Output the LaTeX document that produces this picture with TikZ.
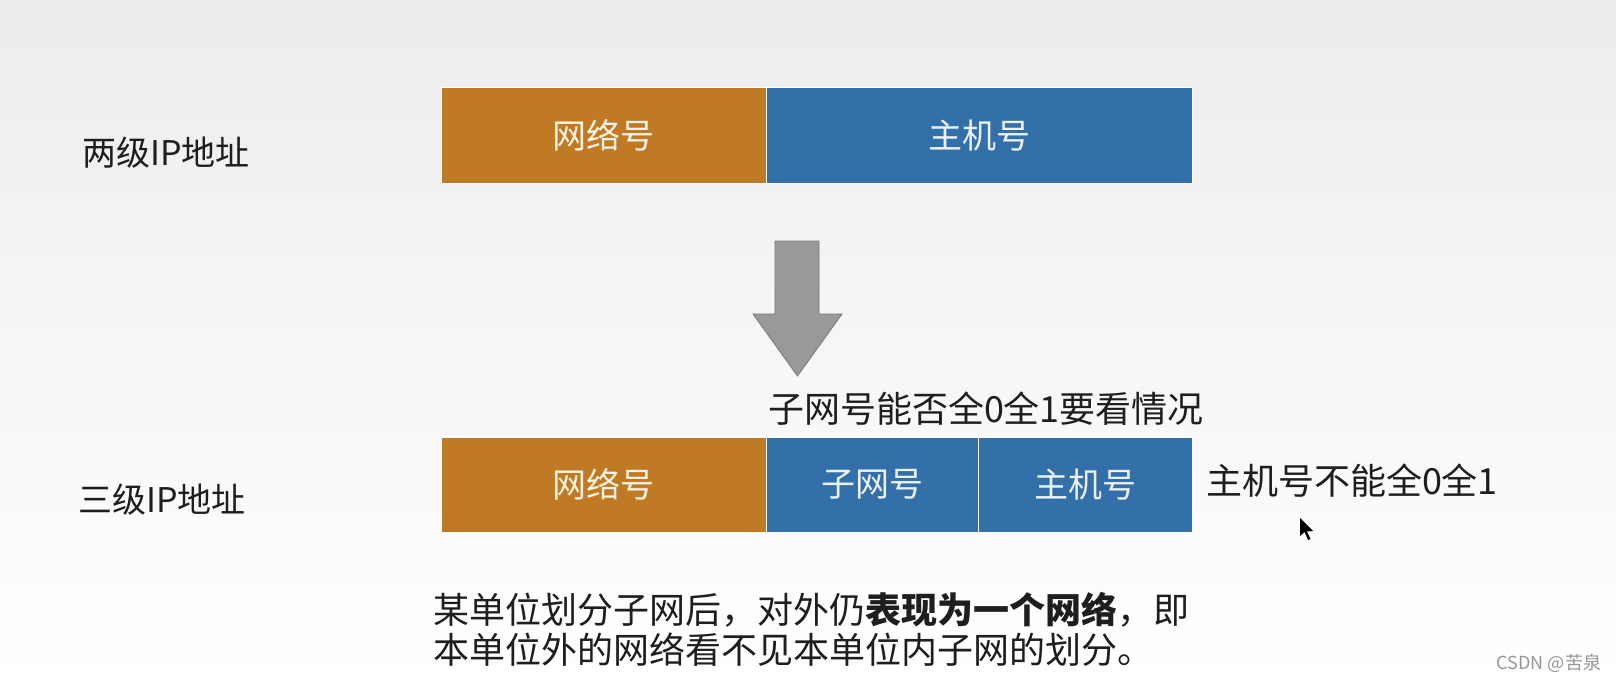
\documentclass[tikz,border=0pt]{standalone}
\usepackage{fontspec}
\setmainfont{Noto Sans CJK SC}
\setsansfont{Noto Sans CJK SC}
\definecolor{netorange}{RGB}{192,122,38}
\definecolor{hostblue}{RGB}{51,111,168}
\definecolor{arrowgray}{RGB}{153,153,153}
\definecolor{arrowedge}{RGB}{120,120,120}
\definecolor{txt}{RGB}{30,30,30}
\definecolor{bgtop}{RGB}{236,236,236}
\tikzset{
  every node/.style={inner sep=0pt, outer sep=0pt},
  big/.style={font=\fontsize{34}{40}\selectfont, text=txt},
  bigger/.style={font=\fontsize{36}{40}\selectfont, text=txt},
  field/.style={draw=white, line width=1pt, anchor=north west, minimum height=95pt,
                font=\fontsize{34}{40}\selectfont, text=white},
  netfield/.style={field, fill=netorange, text={rgb,255:red,255;green,244;blue,225}},
  hostfield/.style={field, fill=hostblue, text={rgb,255:red,235;green,242;blue,250}},
}
\begin{document}
\begin{tikzpicture}[x=1pt,y=-1pt]
\useasboundingbox (0,0) rectangle (1616,682);
\shade[top color=bgtop, bottom color=white, middle color={rgb,255:red,246;green,246;blue,246}] (0,0) rectangle (1616,682);

% two-level
\node[big] (lbl2) at (166,153) {两级IP地址};
\node[netfield, minimum width=325pt] (net2) at (441,88) {网络号};
\node[hostfield, minimum width=426pt] (host2) at (766,88) {主机号};

% arrow
\filldraw[fill=arrowgray, draw=arrowedge, line width=0.8pt]
  (775,241) -- (819,241) -- (819,314) -- (842,314) -- (797.5,376) -- (753,314) -- (775,314) -- cycle;

% three-level
\node[bigger, anchor=west] (note1) at (768,409) {子网号能否全0全1要看情况};
\node[big] (lbl3) at (162,500) {三级IP地址};
\node[netfield, minimum width=325pt] (net3) at (441,437) {网络号};
\node[hostfield, minimum width=212pt] (sub3) at (766,437) {子网号};
\node[hostfield, minimum width=214pt] (host3) at (978,437) {主机号};
\node[bigger, anchor=west] (note2) at (1206,481) {主机号不能全0全1};

% cursor
\fill[black] (1300,518) -- (1300,536) -- (1304.5,532) -- (1308,540) -- (1310.5,539) -- (1307,531.5) -- (1313,531) -- cycle;

% bottom text
\node[bigger, anchor=north west, align=left] (para) at (433,592)
  {某单位划分子网后，对外仍\textbf{表现为一个网络}，即\\本单位外的网络看不见本单位内子网的划分。};

% watermark
\node[font=\fontsize{18}{20}\selectfont, text={rgb,255:red,150;green,150;blue,150}, anchor=east] (wm) at (1601,663) {CSDN @苦泉};
\end{tikzpicture}
\end{document}
